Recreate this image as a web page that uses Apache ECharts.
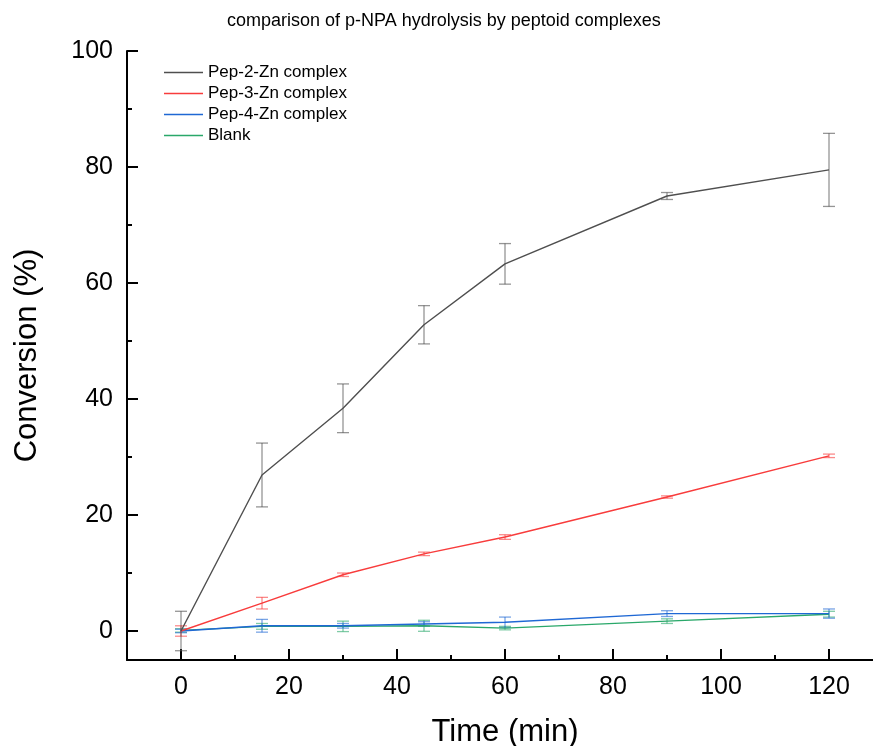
<!DOCTYPE html>
<html>
<head>
<meta charset="utf-8">
<script src="https://cdn.jsdelivr.net/npm/echarts@6/dist/echarts.min.js"></script>
<style>
  html, body { margin: 0; padding: 0; background: #fff; }
  #chart { width: 873px; height: 746px; }
</style>
</head>
<body>
<div id="chart"></div>
<script>
const times = [0, 15, 30, 45, 60, 90, 120];
const seriesNames = ['Pep-2-Zn complex', 'Pep-3-Zn complex', 'Pep-4-Zn complex', 'Blank'];

const pep2 = [0, 26.9, 38.4, 52.8, 63.3, 75.0, 79.5];
const pep2Err = [3.4, 5.5, 4.2, 3.3, 3.5, 0.6, 6.3];
const pep3 = [0, 4.8, 9.7, 13.3, 16.2, 23.1, 30.2];
const pep3Err = [0.9, 1.0, 0.3, 0.3, 0.4, 0.2, 0.3];
const pep4 = [0, 0.9, 0.9, 1.2, 1.5, 3.0, 3.0];
const pep4Err = [0.3, 1.1, 0.4, 0.4, 0.9, 0.5, 0.8];
const blank = [0.1, 0.8, 0.8, 0.9, 0.5, 1.7, 2.9];
const blankErr = [0.3, 0.5, 0.9, 0.95, 0.3, 0.4, 0.5];

const xMajor = [0, 20, 40, 60, 80, 100, 120];
const xMinor = [10, 30, 50, 70, 90, 110];
const yMajor = [0, 20, 40, 60, 80, 100];
const yMinor = [10, 30, 50, 70, 90];

const colors = ['#4f4f4f', '#f83c3c', '#1f68d4', '#2aa86a'];

~function () {
  let myChart = echarts.init(document.getElementById('chart'));
  const font = 'Liberation Sans, Arial, sans-serif';

  function lineSeries(name, vals, color, z) {
    return {
      name: name,
      type: 'line',
      data: times.map((t, i) => [t, vals[i]]),
      showSymbol: false,
      symbol: 'none',
      lineStyle: { color: color, width: 1.4 },
      itemStyle: { color: color },
      z: z
    };
  }

  // vertical error bar with caps at each point
  function errSeries(vals, errs, color, z) {
    return {
      type: 'custom',
      data: times.map((t, i) => [t, vals[i], errs[i]]),
      silent: true,
      z: z,
      renderItem: function (params, api) {
        const x = api.value(0), y = api.value(1), e = api.value(2);
        const hi = api.coord([x, y + e]);
        const lo = api.coord([x, y - e]);
        const w = 6;
        const style = { stroke: color, lineWidth: 1.3, opacity: 0.6 };
        return {
          type: 'group',
          children: [
            { type: 'line', shape: { x1: hi[0], y1: hi[1], x2: lo[0], y2: lo[1] }, style: style },
            { type: 'line', shape: { x1: hi[0] - w, y1: hi[1], x2: hi[0] + w, y2: hi[1] }, style: style },
            { type: 'line', shape: { x1: lo[0] - w, y1: lo[1], x2: lo[0] + w, y2: lo[1] }, style: style }
          ]
        };
      }
    };
  }

  let option = {
    animation: false,
    title: {
      text: 'comparison of p-NPA hydrolysis by peptoid complexes',
      left: 222,
      top: 7,
      textStyle: { fontFamily: font, fontSize: 18, fontWeight: 'normal', color: '#000' }
    },
    legend: {
      data: seriesNames,
      orient: 'vertical',
      left: 164,
      top: 64,
      padding: 0,
      itemWidth: 39,
      itemHeight: 1.5,
      itemGap: 4,
      icon: 'rect',
      textStyle: { fontFamily: font, fontSize: 17, color: '#000' }
    },
    grid: { left: 127, right: -10, top: 51, bottom: 86, containLabel: false, outerBoundsMode: 'none' },
    xAxis: [
      {
        type: 'value',
        min: -10,
        max: 130,
        name: 'Time (min)',
        nameLocation: 'middle',
        nameGap: 57,
        nameTextStyle: { fontFamily: font, fontSize: 31, color: '#000' },
        axisLine: { show: true, onZero: false, lineStyle: { color: '#000', width: 2 } },
        axisTick: { show: true, inside: true, length: 11, customValues: xMajor, lineStyle: { color: '#000', width: 2 } },
        axisLabel: { customValues: xMajor, fontFamily: font, fontSize: 25, color: '#000', margin: 15 },
        splitLine: { show: false }
      },
      {
        type: 'value',
        min: -10,
        max: 130,
        position: 'bottom',
        axisLine: { show: false, onZero: false },
        axisTick: { show: true, inside: true, length: 5, customValues: xMinor, lineStyle: { color: '#000', width: 2 } },
        axisLabel: { show: false },
        splitLine: { show: false }
      }
    ],
    yAxis: [
      {
        type: 'value',
        min: -5,
        max: 100,
        name: 'Conversion (%)',
        nameLocation: 'middle',
        nameGap: 84,
        nameTextStyle: { fontFamily: font, fontSize: 31, color: '#000' },
        axisLine: { show: true, onZero: false, lineStyle: { color: '#000', width: 2 } },
        axisTick: { show: true, inside: true, length: 11, customValues: yMajor, lineStyle: { color: '#000', width: 2 } },
        axisLabel: { customValues: yMajor, fontFamily: font, fontSize: 25, color: '#000', margin: 14 },
        splitLine: { show: false }
      },
      {
        type: 'value',
        min: -5,
        max: 100,
        position: 'left',
        axisLine: { show: false, onZero: false },
        axisTick: { show: true, inside: true, length: 5, customValues: yMinor, lineStyle: { color: '#000', width: 2 } },
        axisLabel: { show: false },
        splitLine: { show: false }
      }
    ],
    series: [
      errSeries(blank, blankErr, colors[3], 2),
      errSeries(pep4, pep4Err, colors[2], 2),
      errSeries(pep3, pep3Err, colors[1], 2),
      errSeries(pep2, pep2Err, colors[0], 2),
      lineSeries(seriesNames[3], blank, colors[3], 3),
      lineSeries(seriesNames[2], pep4, colors[2], 4),
      lineSeries(seriesNames[1], pep3, colors[1], 5),
      lineSeries(seriesNames[0], pep2, colors[0], 6)
    ]
  };
  myChart.setOption(option);
}();
</script>
</body>
</html>
